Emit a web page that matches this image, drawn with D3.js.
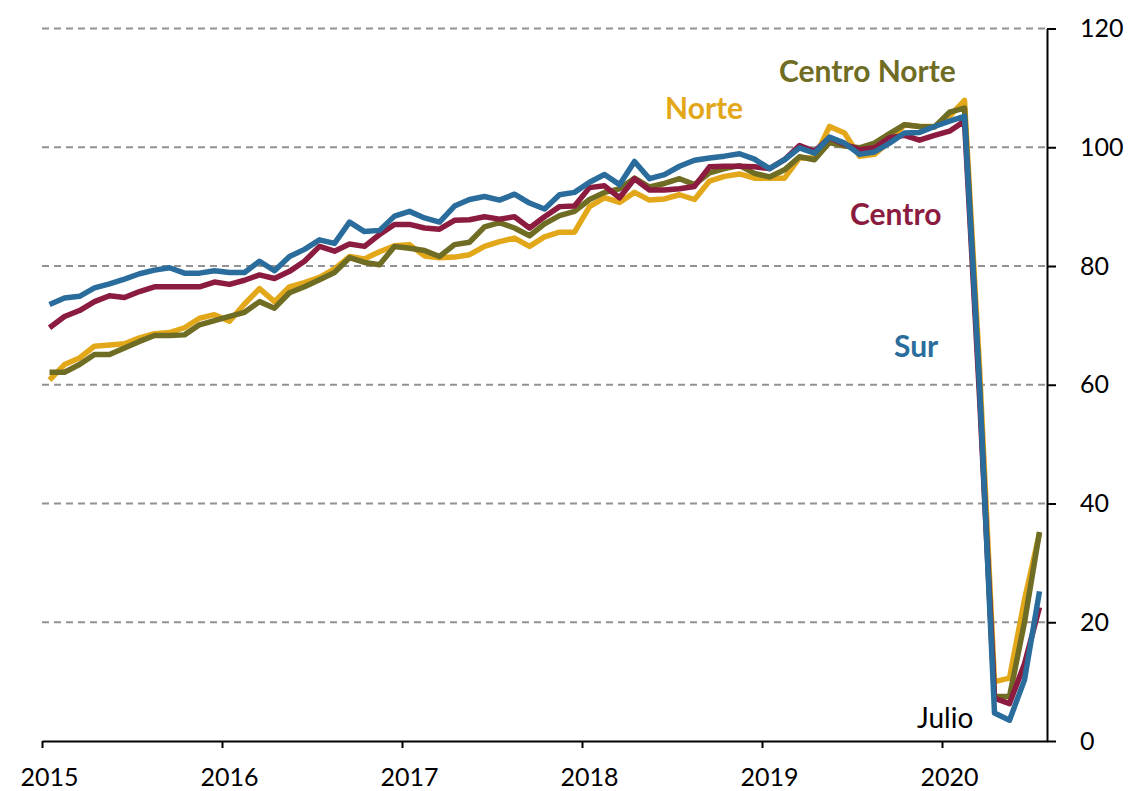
<!DOCTYPE html>
<html>
<head>
<meta charset="utf-8">
<script src="https://cdn.jsdelivr.net/npm/d3@7"></script>
<style>
  body { margin: 0; background: #fff; }
  svg text { font-family: Lato, "Open Sans", sans-serif; }
</style>
</head>
<body>
<svg id="chart" width="1130" height="791"></svg>
<script>
// monthly index, Jan 2015 .. Jul 2020
var YEARS = ['2015', '2016', '2017', '2018', '2019', '2020'];
var Y_TICKS = [0, 20, 40, 60, 80, 100, 120];

var norte = [60.8, 63.4, 64.5, 66.5, 66.7, 66.9, 67.9, 68.6, 68.8, 69.6, 71.2, 71.8,
    70.7, 73.6, 76.2, 74.0, 76.5, 77.2, 78.1, 79.5, 81.6, 81.2, 82.4, 83.4,
    83.6, 81.7, 81.4, 81.5, 81.9, 83.3, 84.1, 84.7, 83.3, 84.9, 85.7, 85.7,
    90.0, 91.5, 90.7, 92.4, 91.1, 91.3, 92.0, 91.2, 94.3, 95.1, 95.5, 94.8,
    94.8, 94.8, 98.2, 98.2, 103.5, 102.4, 98.5, 98.8, 101.0, 103.8, 103.5, 103.5,
    105.2, 107.9, 63.0, 10.0, 10.6, 23.8, 35.0];
var centroNorte = [62.1, 62.1, 63.4, 65.1, 65.1, 66.2, 67.3, 68.3, 68.3, 68.4, 70.1, 70.8,
    71.5, 72.2, 74.0, 72.9, 75.5, 76.5, 77.7, 78.9, 81.4, 80.6, 80.2, 83.3,
    83.0, 82.6, 81.6, 83.6, 84.0, 86.6, 87.3, 86.4, 85.1, 87.1, 88.5, 89.2,
    91.2, 92.4, 93.0, 94.8, 93.3, 93.9, 94.7, 93.7, 95.7, 96.4, 96.9, 95.6,
    95.0, 96.2, 98.4, 97.9, 100.8, 100.2, 99.9, 100.7, 102.3, 103.8, 103.5, 103.4,
    105.9, 106.6, 60.0, 7.5, 7.5, 20.0, 35.2];
var centro = [69.6, 71.5, 72.5, 74.0, 75.0, 74.7, 75.7, 76.5, 76.5, 76.5, 76.5, 77.3,
    76.9, 77.6, 78.5, 77.9, 79.1, 80.8, 83.3, 82.5, 83.7, 83.3, 85.3, 87.0,
    87.0, 86.4, 86.2, 87.7, 87.8, 88.3, 87.9, 88.3, 86.4, 88.3, 90.0, 90.1,
    93.2, 93.5, 91.5, 94.7, 92.8, 92.8, 93.0, 93.4, 96.7, 96.8, 96.8, 96.7,
    96.4, 97.9, 100.3, 99.3, 101.6, 100.5, 99.6, 99.9, 101.6, 102.0, 101.2, 102.0,
    102.7, 104.4, 58.0, 7.2, 6.3, 13.0, 22.5];
var sur = [73.5, 74.6, 74.9, 76.3, 77.0, 77.8, 78.7, 79.3, 79.7, 78.8, 78.8, 79.2,
    78.9, 78.9, 80.8, 79.2, 81.6, 82.8, 84.4, 83.8, 87.4, 85.8, 86.0, 88.4,
    89.2, 88.1, 87.4, 90.1, 91.2, 91.7, 91.1, 92.1, 90.6, 89.6, 92.0, 92.4,
    94.1, 95.4, 93.7, 97.6, 94.7, 95.4, 96.8, 97.8, 98.2, 98.5, 98.9, 98.0,
    96.4, 97.9, 99.9, 99.0, 101.7, 100.7, 98.8, 99.2, 100.7, 102.4, 102.5, 103.5,
    104.4, 105.2, 60.0, 4.7, 3.5, 10.3, 25.2];

var series = [
    { name: 'Norte', values: norte, color: '#e3a71a' },
    { name: 'Centro Norte', values: centroNorte, color: '#6f6c24' },
    { name: 'Centro', values: centro, color: '#8c1c3f' },
    { name: 'Sur', values: sur, color: '#2a6d9c' }
];

var labels = [
    { text: 'Centro Norte', color: '#6f6c24', x: 779, y: 82, size: 30, bold: true },
    { text: 'Norte', color: '#e3a71a', x: 665, y: 119, size: 30, bold: true },
    { text: 'Centro', color: '#8c1c3f', x: 850, y: 225, size: 30, bold: true },
    { text: 'Sur', color: '#2a6d9c', x: 894, y: 357, size: 30, bold: true },
    { text: 'Julio', color: '#000', x: 917, y: 728, size: 28, bold: false }
];

var svg = d3.select('#chart');
var n = sur.length;

var x = d3.scaleLinear().domain([0, n]).range([42, 1047]);
var y = d3.scaleLinear().domain([0, 120]).range([741, 28.5]);

// gridlines
svg.append('g')
    .selectAll('line')
    .data(Y_TICKS.filter(function (d) { return d > 0; }))
    .enter().append('line')
    .attr('x1', x(0))
    .attr('x2', x(n))
    .attr('y1', function (d) { return y(d); })
    .attr('y2', function (d) { return y(d); })
    .attr('stroke', '#929292')
    .attr('stroke-width', 2)
    .attr('stroke-dasharray', '7,5');

// lines
var line = d3.line()
    .x(function (d, i) { return x(i + 0.5); })
    .y(function (d) { return y(d); });

svg.append('g')
    .selectAll('path')
    .data(series)
    .enter().append('path')
    .attr('d', function (d) { return line(d.values); })
    .attr('fill', 'none')
    .attr('stroke', function (d) { return d.color; })
    .attr('stroke-width', 5.5)
    .attr('stroke-linejoin', 'round');

// x axis
var xAxis = svg.append('g')
    .attr('transform', 'translate(0,' + y(0) + ')')
    .call(d3.axisBottom(x)
        .tickValues([0, 12, 24, 36, 48, 60])
        .tickSizeInner(7)
        .tickSizeOuter(0)
        .tickPadding(20)
        .tickFormat(function (d, i) { return YEARS[i]; }));
xAxis.selectAll('text').attr('dx', 7).attr('font-size', 25).attr('fill', '#000');

// y axis on the right
var yAxis = svg.append('g')
    .attr('transform', 'translate(' + x(n) + ',0)')
    .call(d3.axisRight(y)
        .tickValues(Y_TICKS)
        .tickSizeInner(9)
        .tickSizeOuter(0)
        .tickPadding(24));
yAxis.selectAll('text').attr('font-size', 25).attr('fill', '#000');

[xAxis, yAxis].forEach(function (a) {
    a.select('.domain').attr('stroke', '#000').attr('stroke-width', 2);
    a.selectAll('.tick line').attr('stroke', '#000').attr('stroke-width', 2);
    a.attr('font-family', null);
});

// series labels
svg.append('g')
    .selectAll('text')
    .data(labels)
    .enter().append('text')
    .attr('x', function (d) { return d.x; })
    .attr('y', function (d) { return d.y; })
    .attr('fill', function (d) { return d.color; })
    .attr('font-size', function (d) { return d.size; })
    .attr('font-weight', function (d) { return d.bold ? 'bold' : 'normal'; })
    .text(function (d) { return d.text; });
</script>
</body>
</html>
